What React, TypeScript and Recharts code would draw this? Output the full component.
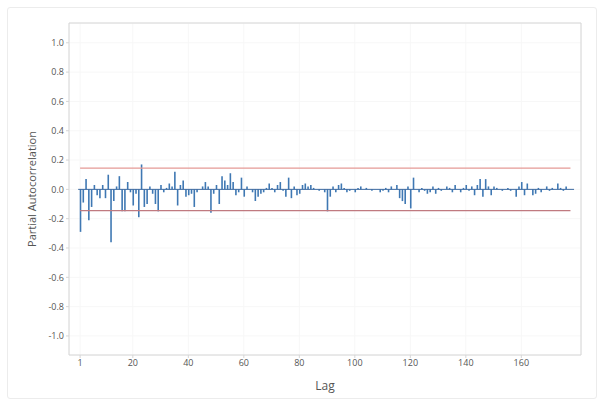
import {
  ComposedChart,
  Bar,
  XAxis,
  YAxis,
  CartesianGrid,
  ReferenceLine,
} from 'recharts';

// PACF values for lags 1..177
const pacfValues = [
  -0.29, -0.09, 0.07, -0.21, -0.12, 0.03, -0.04, -0.06, 0.03, -0.06,
  0.1, -0.36, -0.08, 0.02, 0.09, -0.15, -0.15, 0.05, -0.02, -0.11,
  -0.03, -0.19, 0.17, -0.12, -0.1, 0.02, -0.03, -0.1, -0.15, 0.03,
  -0.02, 0.01, 0.04, 0.02, 0.12, -0.11, 0.03, 0.06, -0.05, -0.04,
  -0.03, -0.12, -0.02, 0.0, 0.02, 0.05, 0.02, -0.16, -0.03, 0.03,
  -0.1, 0.09, 0.06, 0.03, 0.11, 0.05, -0.04, -0.02, 0.08, -0.05,
  0.02, 0.0, -0.02, -0.08, -0.05, -0.03, -0.02, 0.01, 0.04, 0.01,
  -0.02, 0.03, 0.05, -0.01, -0.05, 0.08, -0.06, 0.02, -0.04, -0.03,
  0.03, 0.04, 0.02, 0.03, 0.01, 0.0, -0.01, 0.0, -0.02, -0.15,
  -0.05, 0.02, -0.02, 0.03, 0.04, 0.01, -0.02, -0.01, 0.0, -0.02,
  0.01, 0.02, 0.0, 0.01, 0.0, -0.01, 0.0, 0.0, -0.02, -0.01,
  0.01, -0.02, 0.02, 0.0, 0.03, -0.06, -0.08, -0.1, 0.02, -0.13,
  0.08, 0.0, -0.02, 0.01, -0.01, -0.03, -0.02, 0.02, -0.03, 0.01,
  -0.01, 0.0, 0.02, 0.01, -0.02, 0.03, 0.0, -0.02, 0.01, 0.03,
  -0.01, 0.02, -0.04, 0.03, 0.07, -0.05, 0.07, 0.02, -0.04, 0.02,
  0.01, 0.0, -0.01, 0.0, 0.01, -0.01, 0.0, -0.05, 0.02, 0.05,
  -0.04, 0.04, 0.0, -0.04, -0.03, 0.01, -0.02, 0.0, 0.02, -0.01,
  0.01, 0.0, 0.04, 0.01, -0.01, 0.02, 0.0,
];

const xTicks = [1, 20, 40, 60, 80, 100, 120, 140, 160];
const yTicks = [-1.0, -0.8, -0.6, -0.4, -0.2, 0.0, 0.2, 0.4, 0.6, 0.8, 1.0];
const confLimit = 0.145;

const data = pacfValues.map((v, i) => ({ lag: i + 1, pacf: v }));

const tickStyle = { fill: '#555', fontSize: 9, fontFamily: 'Open Sans' };

export default function App() {
  return (
    <div style={{ position: 'absolute', left: 0, top: 0, width: 603, height: 406, background: '#fff' }}>
      <div
        style={{
          position: 'absolute',
          left: 7,
          top: 7,
          width: 588,
          height: 390,
          border: '1px solid #ececec',
          borderRadius: 3,
        }}
      />
      <div style={{ position: 'absolute', left: 0, top: 0 }}>
        <ComposedChart
          width={603}
          height={406}
          data={data}
          margin={{ top: 23, right: 22, left: 0, bottom: 0 }}
        >
          <CartesianGrid stroke="#f7f7f7" />
          <XAxis
            dataKey="lag"
            type="number"
            domain={[-3, 181.5]}
            ticks={xTicks}
            height={51}
            axisLine={{ stroke: '#d6d6d6' }}
            tickLine={{ stroke: '#d6d6d6' }}
            tickSize={3}
            tick={tickStyle}
            label={{ value: 'Lag', position: 'insideBottom', offset: 16, fill: '#555', fontSize: 12, fontFamily: 'Open Sans' }}
          />
          <YAxis
            type="number"
            domain={[-1.13, 1.135]}
            ticks={yTicks}
            width={69}
            allowDataOverflow
            axisLine={{ stroke: '#d6d6d6' }}
            tickLine={{ stroke: '#d6d6d6' }}
            tickSize={3}
            tick={tickStyle}
            tickFormatter={(v: number) => v.toFixed(1)}
            label={{
              value: 'Partial Autocorrelation',
              angle: -90,
              position: 'insideLeft',
              offset: 32,
              fill: '#555',
              fontSize: 11,
              fontFamily: 'Open Sans',
              style: { textAnchor: 'middle' },
            }}
          />
          <ReferenceLine x={181.5} stroke="#d6d6d6" />
          <ReferenceLine y={1.135} stroke="#d6d6d6" />
          <ReferenceLine
            segment={[{ x: 0.3, y: 0 }, { x: 179, y: 0 }]}
            stroke="#3d6aa0"
            strokeWidth={1}
          />
          <ReferenceLine
            segment={[{ x: 1, y: confLimit }, { x: 177.7, y: confLimit }]}
            stroke="#e59a96"
            strokeWidth={1.2}
          />
          <ReferenceLine
            segment={[{ x: 1, y: -confLimit }, { x: 177.7, y: -confLimit }]}
            stroke="#c07a80"
            strokeWidth={1.2}
          />
          <Bar dataKey="pacf" fill="#3f78b3" barSize={1.6} isAnimationActive={false} />
        </ComposedChart>
      </div>
    </div>
  );
}
